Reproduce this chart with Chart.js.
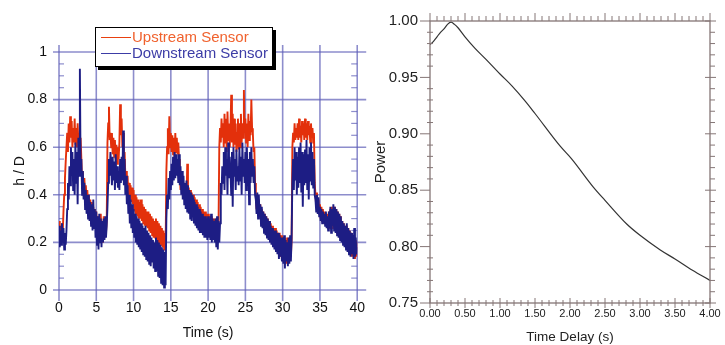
<!DOCTYPE html>
<html>
<head>
<meta charset="utf-8">
<script src="https://cdn.jsdelivr.net/npm/chart.js@4.4.1/dist/chart.umd.min.js"></script>
<style>
  html, body { margin: 0; padding: 0; background: #fff; }
  body { width: 725px; height: 345px; position: relative; overflow: hidden;
         font-family: "Liberation Sans", Arial, sans-serif; }
  #leftChart { position: absolute; left: 0; top: 0; }
  #rightChart { position: absolute; left: 360px; top: 0; }
  .legend { position: absolute; left: 95px; top: 27px; width: 176px; height: 38px;
            border: 1px solid #000; box-shadow: 3px 3px 0 #000; background: #fff;
            font-size: 15px; line-height: 16px; }
  .row { position: absolute; left: 5px; display: flex; align-items: center; white-space: nowrap; }
  .sw { display: inline-block; width: 30px; height: 0; border-top: 1.5px solid; margin-right: 1px; }
</style>
</head>
<body>
<canvas id="leftChart" width="375" height="345"></canvas>
<canvas id="rightChart" width="365" height="345"></canvas>
<div class="legend">
  <div class="row" style="top:1px;color:#f0622e"><span class="sw" style="border-color:#e8400f"></span>Upstream Sensor</div>
  <div class="row" style="top:17px;color:#3c3ca6"><span class="sw" style="border-color:#3c3ca6"></span>Downstream Sensor</div>
</div>
<script>
// ---- Depth records: h / D in hundredths, one sample every 0.1 s from 0 to 40 s ----
const SAMPLE_STEP_S = 0.1;

const upstreamHd = [
  29,22,27,21,28,24,33,40,47,54, 60,66,58,70,62,73,64,71,60,68,
  62,72,61,68,60,70,62,66,58,64, 55,45,50,42,47,40,44,38,42,36,
  40,33,38,30,37,29,35,28,34,27, 33,24,31,22,30,21,32,23,29,20,
  31,22,30,24,29,62,70,77,63,66, 60,66,57,64,56,63,55,61,53,60,
  55,62,78,65,72,60,66,56,58,48, 50,42,48,40,45,38,44,37,43,36,
  42,33,40,32,39,31,38,30,37,30, 38,29,36,28,35,27,34,27,33,26,
  33,25,32,24,31,23,30,22,29,22, 30,21,29,20,28,19,27,19,26,18,
  25,17,24,18,50,60,68,57,73,60, 66,58,65,57,64,56,66,58,64,57,
  62,55,48,42,50,41,47,39,45,38, 44,37,53,38,43,36,42,35,41,34,
  40,33,39,32,38,31,37,31,36,30, 35,29,34,28,33,27,33,27,32,26,
  32,25,31,24,31,23,30,22,30,22, 29,21,30,22,28,60,68,62,72,64,
  70,60,74,62,72,58,75,63,70,60, 68,82,62,74,60,72,61,70,58,66,
  72,59,70,60,74,62,70,64,84,66, 72,62,70,60,74,63,71,65,80,68,
  66,58,60,45,40,34,40,33,38,31, 36,29,34,28,33,26,32,25,31,24,
  30,23,29,21,28,20,27,19,26,18, 26,17,25,16,24,15,24,14,23,13,
  22,12,22,13,21,11,22,12,20,13, 22,14,21,60,66,62,70,63,68,64,
  70,63,72,64,69,62,71,65,70,63, 72,64,70,63,71,65,69,62,70,64,
  68,62,66,45,40,35,41,34,38,32, 36,30,35,29,34,28,33,28,32,27,
  32,26,33,27,34,26,35,27,34,26, 35,25,34,24,33,23,32,22,31,21,
  29,20,28,19,27,18,27,17,26,16, 25,15,24,14,23,16,22,13,21,14,
  20
];

const downstreamHd = [
  27,18,25,19,28,20,26,17,24,19, 25,34,45,38,52,44,60,48,58,42,
  55,40,62,45,58,36,64,48,93,50, 55,40,50,38,45,34,42,32,40,30,
  40,29,37,27,36,25,38,26,34,22, 33,19,31,17,32,20,30,18,29,20,
  30,21,31,22,27,35,45,55,48,58, 52,44,56,46,54,42,57,45,52,43,
  50,42,55,45,56,46,67,44,55,40, 48,36,44,32,40,28,38,26,36,24,
  34,22,32,20,31,19,30,18,29,17, 28,16,27,15,26,14,27,13,25,12,
  24,11,23,10,22,12,21,9,20,8,   22,8,21,6,20,5,19,3,18,2,
  17,1,16,2,30,40,34,47,38,50,   42,53,44,56,46,58,47,57,48,55,
  45,57,44,52,40,50,38,48,36,45, 34,46,33,44,32,42,30,41,29,40,
  38,28,37,27,36,26,35,25,34,24, 33,24,32,23,31,22,31,22,30,21,
  31,22,30,21,32,20,30,21,29,20, 30,18,31,17,29,20,28,45,40,52,
  45,58,42,60,48,55,40,62,47,56, 50,40,58,35,60,48,55,42,59,46,
  52,44,60,46,56,40,62,48,55,45, 58,42,60,46,55,36,58,45,60,48,
  55,45,52,40,38,32,41,30,40,31, 36,27,35,26,33,24,32,23,31,22,
  30,21,29,20,27,19,26,18,25,17, 25,16,24,15,24,13,23,14,22,12,
  22,11,23,9,21,12,20,10,22,11,  23,12,22,45,55,42,60,46,58,40,
  56,43,60,45,62,41,58,35,57,44, 59,45,63,42,57,38,60,46,62,44,
  58,43,55,40,38,33,40,32,39,31, 35,29,34,28,33,28,32,27,33,26,
  31,25,33,26,35,24,34,27,36,25, 35,24,34,23,33,22,32,21,31,20,
  29,19,28,18,27,17,28,16,26,15, 25,14,24,15,23,13,26,14,22,15,
  18
];

// ---- Cross-correlation power against time delay ----
const delaySeconds = [0, 0.05, 0.1, 0.15, 0.2, 0.25, 0.3, 0.35, 0.4, 0.5, 0.64, 0.8, 1.0, 1.17,
  1.36, 1.5, 1.86, 2.02, 2.33, 2.5, 2.81, 3.0, 3.29, 3.5, 3.75, 4.0];
const powerValues = [0.979, 0.982, 0.986, 0.990, 0.993, 0.997, 0.999, 0.997, 0.994, 0.986, 0.976,
  0.966, 0.953, 0.9425, 0.929, 0.918, 0.889, 0.878, 0.853, 0.841, 0.820, 0.810, 0.797, 0.789, 0.779, 0.770];

// ---- Axis ticks ----
const timeTicks = [0, 5, 10, 15, 20, 25, 30, 35, 40];
const hdTicks = [0, 0.2, 0.4, 0.6, 0.8, 1];
const hdTickLabels = ['0', '0.2', '0.4', '0.6', '0.8', '1'];
const delayTicks = [0, 0.5, 1, 1.5, 2, 2.5, 3, 3.5, 4];
const delayTickLabels = ['0.00', '0.50', '1.00', '1.50', '2.00', '2.50', '3.00', '3.50', '4.00'];
const powerTicks = [0.75, 0.80, 0.85, 0.90, 0.95, 1.00];
const powerTickLabels = ['0.75', '0.80', '0.85', '0.90', '0.95', '1.00'];

Chart.defaults.font.family = '"Liberation Sans", Arial, sans-serif';

const toPoints = arr => arr.map((v, i) => ({ x: +(i * SAMPLE_STEP_S).toFixed(1), y: v / 100 }));
const labelFrom = (values, labels) => v => {
  const i = values.findIndex(t => Math.abs(t - v) < 1e-9);
  return i >= 0 ? labels[i] : '';
};

const GRID_BLUE = 'rgba(92, 92, 182, 0.7)';
const FRAME = '#857676';
const NO_GRID = { display: false, drawTicks: false };

// Grid lines, axis stubs and minor ticks of the depth plot
const depthFrame = {
  id: 'depthFrame',
  beforeDatasetsDraw(chart) {
    const { ctx, scales: { x, y } } = chart;
    ctx.save();
    ctx.strokeStyle = GRID_BLUE;
    ctx.lineWidth = 1.6;
    hdTicks.forEach(v => {
      const py = y.getPixelForValue(v);
      ctx.beginPath(); ctx.moveTo(x.left - 6, py); ctx.lineTo(x.right + 9, py); ctx.stroke();
    });
    timeTicks.forEach(t => {
      const px = x.getPixelForValue(t);
      ctx.beginPath(); ctx.moveTo(px, y.top - 7); ctx.lineTo(px, y.bottom + 11); ctx.stroke();
    });
    ctx.lineWidth = 1.2;
    for (let i = 1; i < 20; i++) {
      if (i % 4 === 0) continue;
      const py = y.getPixelForValue(i * 0.05);
      ctx.beginPath(); ctx.moveTo(x.left, py); ctx.lineTo(x.left + 5, py); ctx.stroke();
      ctx.beginPath(); ctx.moveTo(x.right - 6, py); ctx.lineTo(x.right, py); ctx.stroke();
    }
    ctx.restore();
  }
};

// Box and tick marks of the power plot
const powerFrame = {
  id: 'powerFrame',
  afterDatasetsDraw(chart) {
    const { ctx, scales: { x, y } } = chart;
    ctx.save();
    ctx.strokeStyle = FRAME;
    ctx.lineWidth = 1.3;
    ctx.strokeRect(x.left, y.top, x.right - x.left, y.bottom - y.top);
    ctx.lineWidth = 1;
    const line = (x1, y1, x2, y2) => { ctx.beginPath(); ctx.moveTo(x1, y1); ctx.lineTo(x2, y2); ctx.stroke(); };
    for (let i = 0; i <= 40; i++) {
      const px = x.getPixelForValue(i * 0.1);
      const major = i % 5 === 0;
      line(px, y.bottom - (major ? 5 : 3), px, y.bottom + (major ? 5 : 3));
      line(px, y.top - (major ? 8 : 5), px, y.top);
    }
    for (let i = 0; i <= 25; i++) {
      const py = y.getPixelForValue(0.75 + i * 0.01);
      const major = i % 5 === 0;
      if (major) {
        line(x.left - 10, py, x.left, py);
        line(x.right - 5, py, x.right + 6, py);
      } else {
        line(x.left - 3, py, x.left + 3, py);
        line(x.right, py, x.right + 5, py);
      }
    }
    ctx.restore();
  }
};

new Chart(document.getElementById('leftChart'), {
  type: 'line',
  data: {
    datasets: [
      { label: 'Downstream Sensor', data: toPoints(downstreamHd), borderColor: '#1d1d84',
        borderWidth: 1.9, pointRadius: 0, order: 0 },
      { label: 'Upstream Sensor', data: toPoints(upstreamHd), borderColor: '#e3300b',
        borderWidth: 1.9, pointRadius: 0, order: 1 }
    ]
  },
  options: {
    responsive: false, animation: false, events: [],
    layout: { padding: { top: 52, right: 9, left: 0, bottom: 0 } },
    plugins: { legend: { display: false }, tooltip: { enabled: false } },
    scales: {
      x: {
        type: 'linear', min: 0, max: 40,
        afterBuildTicks: s => { s.ticks = timeTicks.map(v => ({ value: v })); },
        grid: NO_GRID, border: { display: false },
        ticks: { padding: 10, font: { size: 14 }, color: '#111', maxRotation: 0, autoSkip: false },
        title: { display: true, text: 'Time (s)', font: { size: 14 }, color: '#111', padding: { top: 0, bottom: 3 } },
        afterFit: s => { s.height = 55; }
      },
      y: {
        type: 'linear', min: 0, max: 1,
        afterBuildTicks: s => { s.ticks = hdTicks.map(v => ({ value: v })); },
        grid: NO_GRID, border: { display: false },
        ticks: { padding: 12, font: { size: 14 }, color: '#111', callback: labelFrom(hdTicks, hdTickLabels) },
        title: { display: true, text: 'h / D', font: { size: 14 }, color: '#111', padding: { top: 12, bottom: 0 } },
        afterFit: s => { s.width = 59; }
      }
    }
  },
  plugins: [depthFrame]
});

new Chart(document.getElementById('rightChart'), {
  type: 'line',
  data: {
    datasets: [
      { label: 'Power', data: delaySeconds.map((d, i) => ({ x: d, y: powerValues[i] })),
        borderColor: '#333', borderWidth: 1.2, pointRadius: 0, cubicInterpolationMode: 'monotone' }
    ]
  },
  options: {
    responsive: false, animation: false, events: [],
    layout: { padding: { top: 20, right: 15, left: 0, bottom: 0 } },
    plugins: { legend: { display: false }, tooltip: { enabled: false } },
    scales: {
      x: {
        type: 'linear', min: 0, max: 4,
        afterBuildTicks: s => { s.ticks = delayTicks.map(v => ({ value: v })); },
        grid: NO_GRID, border: { display: false },
        ticks: { padding: 4, font: { size: 11 }, color: '#222', maxRotation: 0, autoSkip: false,
                 callback: labelFrom(delayTicks, delayTickLabels) },
        title: { display: true, text: 'Time Delay (s)', font: { size: 13.5 }, color: '#222', padding: { top: 0, bottom: 0 } },
        afterFit: s => { s.height = 42; }
      },
      y: {
        type: 'linear', min: 0.75, max: 1.0,
        afterBuildTicks: s => { s.ticks = powerTicks.map(v => ({ value: v })); },
        grid: NO_GRID, border: { display: false },
        ticks: { padding: 12, font: { size: 15 }, color: '#222', callback: labelFrom(powerTicks, powerTickLabels) },
        title: { display: true, text: 'Power', font: { size: 15 }, color: '#222', padding: { top: 12, bottom: 0 } },
        afterFit: s => { s.width = 70; }
      }
    }
  },
  plugins: [powerFrame]
});
</script>
</body>
</html>
